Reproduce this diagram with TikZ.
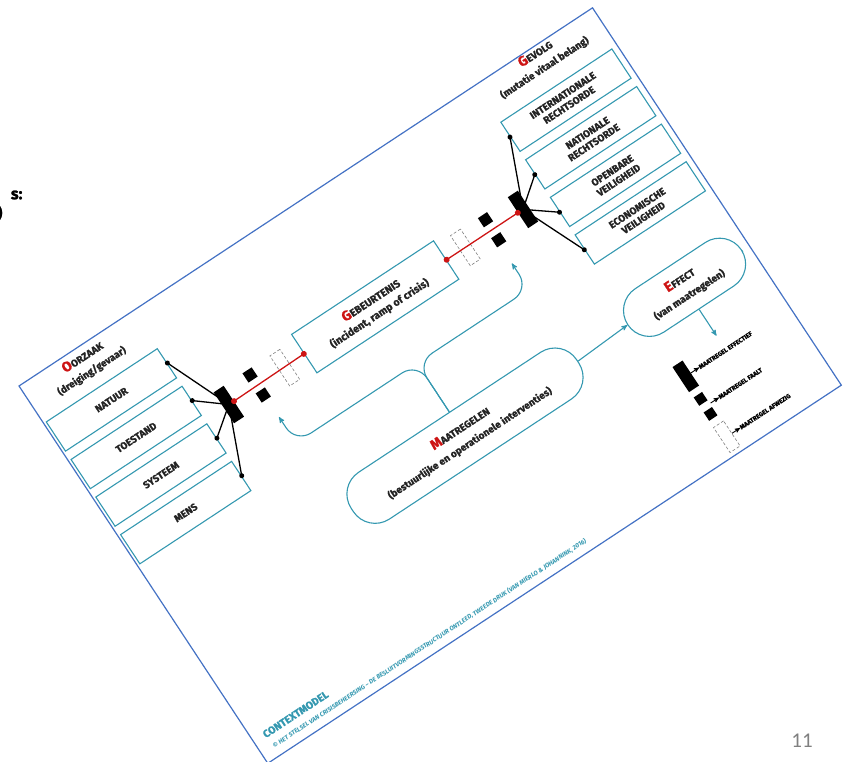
\documentclass[tikz,border=0pt]{standalone}
\usepackage{fontspec}
\setmainfont{Fira Sans}[BoldFeatures={FakeBold=1.2}]
\newfontfamily\paginafont{Carlito}
\usepackage{tikz}
\usetikzlibrary{positioning}
\usetikzlibrary{shapes,arrows}

\definecolor{kader}{RGB}{68,114,196}
\definecolor{lijn}{RGB}{52,152,176}
\definecolor{rood}{RGB}{205,20,20}
\definecolor{tekst}{RGB}{35,35,35}

\newcommand{\kop}[1]{{\color{rood}\fontsize{14}{14}\selectfont #1}}

\tikzstyle{vak} = [rectangle, draw=lijn, line width=1.1pt, text=tekst,
    minimum width=133pt, minimum height=35pt, inner sep=1pt, align=center,
    font=\bfseries\fontsize{10}{11.5}\selectfont]
\tikzstyle{titel} = [text=tekst, align=center, inner sep=0pt,
    font=\bfseries\fontsize{10}{16}\selectfont]
\tikzstyle{rondvak} = [rectangle, draw=lijn, line width=1.1pt, text=tekst,
    rounded corners=26pt, align=center, inner sep=0pt,
    font=\bfseries\fontsize{10}{17}\selectfont]
\tikzstyle{balk} = [rectangle, fill=black, minimum width=12pt, minimum height=37pt, inner sep=0pt]
\tikzstyle{blok} = [rectangle, fill=black, minimum size=11pt, inner sep=0pt]
\tikzstyle{afwezig} = [rectangle, draw=gray, densely dashed, line width=0.6pt,
    minimum width=12pt, minimum height=36pt, inner sep=0pt]
\tikzstyle{stip} = [circle, fill=black, minimum size=5pt, inner sep=0pt]
\tikzstyle{roodstip} = [circle, fill=rood, minimum size=6pt, inner sep=0pt]
\tikzstyle{tak} = [draw, black, line width=1.3pt]
\tikzstyle{rood lijn} = [draw, rood, line width=1.3pt]
\tikzstyle{pijl} = [draw=lijn, line width=1.1pt, -stealth', rounded corners=18pt]
\tikzstyle{uitleg} = [anchor=west, text=black, inner sep=0pt,
    font=\bfseries\fontsize{6.3}{7}\selectfont]
\tikzstyle{kleinpijl} = [draw, black, line width=0.9pt, -stealth']

\begin{document}
\begin{tikzpicture}[x=1pt, y=1pt]
\useasboundingbox (0,0) rectangle (846,761);
% rest van de dia
\node[anchor=east, font=\bfseries\fontsize{16}{16}\selectfont] (restA) at (26,566) {s:};
\node[anchor=east, font=\bfseries\fontsize{16}{16}\selectfont] (restB) at (6,548) {)};
\node[text=gray, font=\paginafont\fontsize{21}{21}\selectfont] (pagina) at (802,20) {11};

\begin{scope}[shift={(19,375)}, rotate=33.4, y=-1pt, transform shape]
    % kader
    \draw[kader, line width=1.2pt] (0,0) rectangle (687,452);

    % oorzaak
    \node[titel] (oorzaak) at (69,19) {\kop{O}ORZAAK\\(dreiging/gevaar)};
    \node[vak] (natuur) at (69.5,62.5) {NATUUR};
    \node[vak] (toestand) at (69.5,107.5) {TOESTAND};
    \node[vak] (systeem) at (69.5,152.5) {SYSTEEM};
    \node[vak] (mens) at (69.5,197.5) {MENS};

    % gevolg
    \node[titel] (gevolg) at (614,15) {\kop{G}EVOLG\\(mutatie vitaal belang)};
    \node[vak] (internationaal) at (614,62.5) {INTERNATIONALE\\RECHTSORDE};
    \node[vak] (nationaal) at (614,107.5) {NATIONALE\\RECHTSORDE};
    \node[vak] (openbaar) at (614,152.5) {OPENBARE\\VEILIGHEID};
    \node[vak] (economisch) at (614,197.5) {ECONOMISCHE\\VEILIGHEID};

    % gebeurtenis
    \node[vak, minimum width=170pt, minimum height=46pt, font=\bfseries\fontsize{10.5}{15}\selectfont]
        (gebeurtenis) at (341,130) {\kop{G}EBEURTENIS\\(incident, ramp of crisis)};

    % barrieres links
    \node[balk] (balklinks) at (165,131) {};
    \node[blok] (bloklinks1) at (199,118) {};
    \node[blok] (bloklinks2) at (199,142) {};
    \node[afwezig] (leeglinks) at (232,131) {};
    % barrieres rechts
    \node[balk] (balkrechts) at (518,130) {};
    \node[blok] (blokrechts1) at (481,118) {};
    \node[blok] (blokrechts2) at (481,142) {};
    \node[afwezig] (leegrechts) at (449,130) {};

    % maatregelen en effect
    \node[rondvak, minimum width=270pt, minimum height=56pt] (maatregelen) at (345,287)
        {\kop{M}AATREGELEN\\(bestuurlijke en operationele interventies)};
    \node[rondvak, minimum width=136pt, minimum height=52pt] (effect) at (610,284)
        {\kop{E}FFECT\\(van maatregelen)};

    % lijnen naar de balken
    \foreach \v in {natuur, toestand, systeem, mens} {
        \node[stip] at (\v.east) {};
        \path[tak] (\v.east) -- (balklinks.center);
    }
    \foreach \v in {internationaal, nationaal, openbaar, economisch} {
        \node[stip] at (\v.west) {};
        \path[tak] (\v.west) -- (balkrechts.center);
    }
    \path[rood lijn] (balklinks.east) -- (gebeurtenis.west);
    \path[rood lijn] (gebeurtenis.east) -- (balkrechts.west);
    \node[roodstip] at (balklinks.east) {};
    \node[roodstip] at (gebeurtenis.west) {};
    \node[roodstip] at (gebeurtenis.east) {};
    \node[roodstip] at (balkrechts.west) {};

    % pijlen vanuit maatregelen
    \coordinate (knik) at (345,200);
    \coordinate (hoeklinks) at (200,200);
    \coordinate (hoekrechts) at (479,200);
    \coordinate (pijllinks) at (200,169);
    \coordinate (pijlrechts) at (479,169);
    \path[pijl] (maatregelen.north) -- (knik) -- (hoeklinks) -- (pijllinks);
    \path[pijl] (maatregelen.north) -- (knik) -- (hoekrechts) -- (pijlrechts);
    \path[pijl] (maatregelen.east) -- (effect.west);
    \coordinate (legenda) at (610,342);
    \path[pijl] (effect.south) -- (legenda);

    % legenda
    \node[balk, minimum height=30pt] (lbalk) at (562,359) {};
    \node[blok, minimum size=10pt] (lblok1) at (562,386) {};
    \node[blok, minimum size=10pt] (lblok2) at (562,404) {};
    \node[afwezig, minimum height=30pt] (lleeg) at (563,432) {};
    \node[uitleg] (effectief) at (578,359) {MAATREGEL EFFECTIEF};
    \node[uitleg] (faalt) at (578,395) {MAATREGEL FAALT};
    \node[uitleg] (afwezig) at (579,432) {MAATREGEL AFWEZIG};
    \path[kleinpijl] (lbalk.east) -- (effectief.west);
    \path[kleinpijl] (568,395) -- (faalt.west);
    \path[kleinpijl] (lleeg.east) -- (afwezig.west);

    % voetregel
    \node[anchor=base west, text=lijn, inner sep=0pt, font=\bfseries\fontsize{10.5}{11}\selectfont]
        (contextmodel) at (12,430) {CONTEXTMODEL};
    \node[anchor=base west, text=lijn, inner sep=0pt, font=\bfseries\itshape\fontsize{6.3}{7}\selectfont]
        (bron) at (14,443) {\copyright{} HET STELSEL VAN CRISISBEHEERSING -- DE BESLUITVORMINGSSTRUCTUUR ONTLEED, TWEEDE DRUK (VAN MIERLO \& JOHANNINK, 2016)};
\end{scope}
\end{tikzpicture}
\end{document}
